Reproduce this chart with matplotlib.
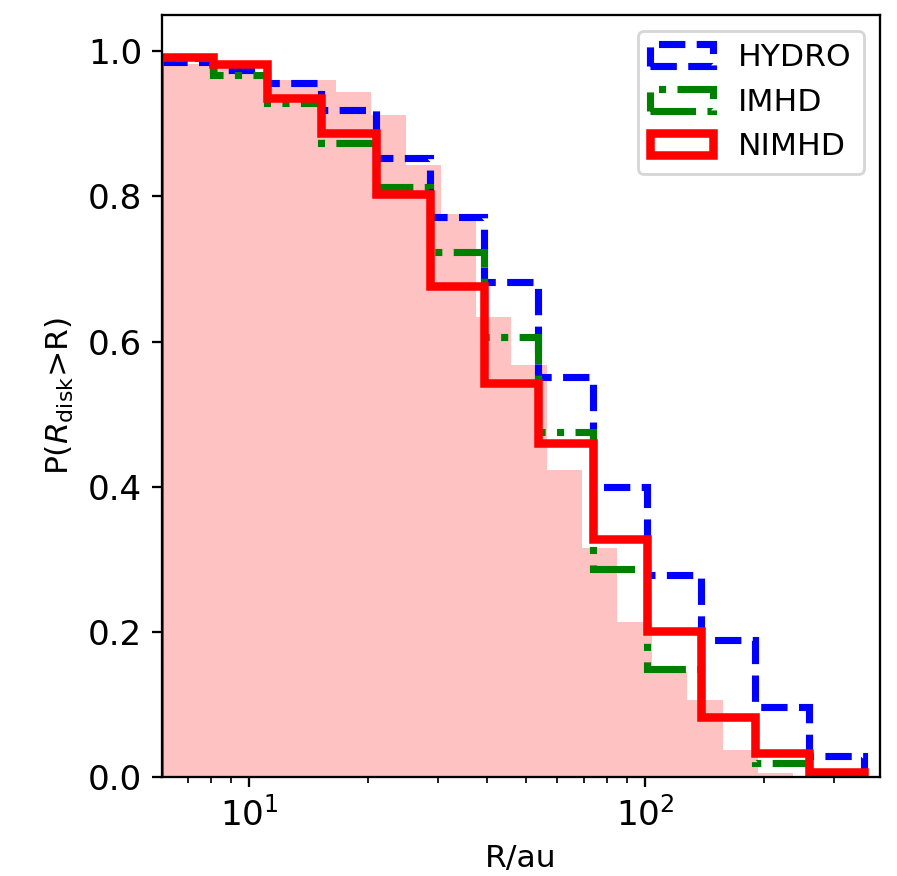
import numpy as np
import matplotlib
matplotlib.use("Agg")
import matplotlib.pyplot as plt

# bin edges of the simulated disk-size histograms (au)
bords_sim = [5.92, 8.11, 11.1, 15.2, 20.9, 28.6, 39.2, 53.8, 73.7,
             101.0, 138.6, 190.0, 260.0, 357.0]

# P(R_disk > R) per bin
hydro = [0.985, 0.974, 0.956, 0.919, 0.853, 0.771, 0.682, 0.551,
         0.399, 0.278, 0.189, 0.097, 0.029]
imhd = [0.990, 0.967, 0.929, 0.873, 0.813, 0.723, 0.606, 0.475,
        0.286, 0.149, 0.083, 0.019, 0.003]
nimhd = [0.992, 0.983, 0.935, 0.887, 0.803, 0.676, 0.543, 0.460,
         0.328, 0.201, 0.083, 0.033, 0.007]

# finer binned filled distribution (pink background)
bords_obs = [5.96, 7.31, 8.97, 11.0, 13.5, 16.6, 20.3, 24.9, 30.6, 37.5,
             46.0, 56.5, 69.3, 85.0, 104.3, 128.0, 157.0, 193.0, 236.0]
obs = [0.982, 0.982, 0.972, 0.960, 0.960, 0.944, 0.912, 0.843, 0.775,
       0.634, 0.567, 0.423, 0.315, 0.214, 0.145, 0.106, 0.037, 0.006]

plt.rcParams['font.size'] = 11

fig = plt.figure(figsize=(897 / 205, 876 / 205), dpi=205)
ax = fig.add_axes([0.1806, 0.1130, 0.8004, 0.8700])

ax.hist(bords_obs[:-1], bins=bords_obs, weights=obs, histtype='stepfilled',
        color='red', alpha=0.24, lw=0)
ax.hist(bords_sim[:-1], bins=bords_sim, weights=hydro, histtype='step',
        color='blue', ls='--', lw=2.5, label='HYDRO')
ax.hist(bords_sim[:-1], bins=bords_sim, weights=imhd, histtype='step',
        color='green', ls='-.', lw=2.5, label='IMHD')
ax.hist(bords_sim[:-1], bins=bords_sim, weights=nimhd, histtype='step',
        color='red', ls='-', lw=3, label='NIMHD')

ax.set_xscale('log')
ax.set_xlim(6.03, 392)
ax.set_ylim(0, 1.05)
ax.tick_params(labelsize=12)
ax.set_xlabel('R/au')
ax.set_ylabel(r'P($R_{\rm disk}$>R)')
ax.legend(loc='upper right')

fig.savefig('out.png', dpi=205)
